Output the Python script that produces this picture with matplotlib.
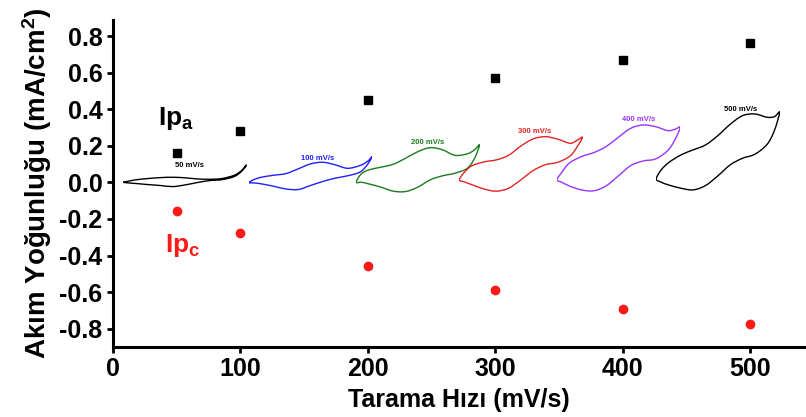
import numpy as np
import matplotlib
matplotlib.use("Agg")
import matplotlib.pyplot as plt
from matplotlib.path import Path
from matplotlib.patches import PathPatch

plt.rcParams["font.family"] = ["Liberation Sans", "DejaVu Sans"]
plt.rcParams["font.weight"] = "bold"
plt.rcParams["axes.unicode_minus"] = False
plt.rcParams["mathtext.fontset"] = "custom"
plt.rcParams["mathtext.rm"] = "Liberation Sans:bold"
plt.rcParams["mathtext.bf"] = "Liberation Sans:bold"
plt.rcParams["mathtext.it"] = "Liberation Sans:bold"

# peak current densities vs scan rate
scan_rates = [50, 100, 200, 300, 400, 500]
ipa = [0.16, 0.28, 0.45, 0.57, 0.67, 0.76]
ipc = [-0.155, -0.275, -0.46, -0.59, -0.69, -0.775]

x_ticks = [0, 100, 200, 300, 400, 500]
y_ticks = [-0.8, -0.6, -0.4, -0.2, 0.0, 0.2, 0.4, 0.6, 0.8]

# small voltammograms: potential grid (V), anodic and cathodic branches
e_cv = [-0.2, -0.16, -0.1, 0.0, 0.1, 0.2, 0.3, 0.4, 0.5, 0.6, 0.7, 0.76, 0.8]
fwd_50 = [0.001, 0.006, 0.014, 0.021, 0.026, 0.028, 0.025, 0.019, 0.017, 0.021, 0.039, 0.065, 0.096]
rev_50 = [0.001, -0.003, -0.006, -0.012, -0.017, -0.023, -0.014, -0.001, 0.010, 0.015, 0.032, 0.061, 0.096]
fwd_100 = [-0.001, 0.015, 0.028, 0.039, 0.048, 0.074, 0.101, 0.110, 0.096, 0.077, 0.092, 0.114, 0.141]
rev_100 = [-0.001, -0.003, -0.008, -0.021, -0.036, -0.039, -0.017, 0.005, 0.023, 0.036, 0.056, 0.096, 0.141]
fwd_200 = [0.001, 0.046, 0.068, 0.083, 0.099, 0.132, 0.168, 0.190, 0.178, 0.148, 0.156, 0.178, 0.205]
rev_200 = [0.001, 0.001, -0.008, -0.026, -0.048, -0.050, -0.026, 0.014, 0.036, 0.050, 0.077, 0.132, 0.205]
fwd_300 = [0.014, 0.054, 0.090, 0.112, 0.123, 0.148, 0.199, 0.238, 0.250, 0.236, 0.214, 0.232, 0.247]
rev_300 = [0.014, 0.003, -0.012, -0.036, -0.048, -0.032, 0.014, 0.065, 0.097, 0.110, 0.145, 0.199, 0.247]
fwd_400 = [0.014, 0.054, 0.105, 0.141, 0.163, 0.196, 0.247, 0.296, 0.314, 0.305, 0.283, 0.291, 0.301]
rev_400 = [0.014, 0.001, -0.019, -0.041, -0.046, -0.019, 0.036, 0.092, 0.117, 0.128, 0.174, 0.236, 0.301]
fwd_500 = [0.019, 0.068, 0.108, 0.150, 0.178, 0.205, 0.256, 0.318, 0.365, 0.374, 0.356, 0.360, 0.383]
rev_500 = [0.019, 0.001, -0.014, -0.032, -0.041, -0.017, 0.036, 0.096, 0.132, 0.154, 0.209, 0.287, 0.383]

cv_labels = ["50 mV/s", "100 mV/s", "200 mV/s", "300 mV/s", "400 mV/s", "500 mV/s"]
cv_colors = ["black", "#1f1fff", "#1e7a1e", "#e02424", "#9933ff", "black"]
cv_left = [8.2, 106.7, 190.9, 271.7, 348.2, 426.2]
cv_label_pos = [(0.34, 0.092), (0.354, 0.128), (0.38, 0.22), (0.41, 0.281), (0.46, 0.345), (0.487, 0.40)]
cv_fwd = [fwd_50, fwd_100, fwd_200, fwd_300, fwd_400, fwd_500]
cv_rev = [rev_50, rev_100, rev_200, rev_300, rev_400, rev_500]

XMAX, YMIN, YMAX = 543, -0.9, 0.888


def smooth_loop(x, y):
    # closed Catmull-Rom curve through the points, drawn as cubic Beziers
    pts = np.column_stack([x, y])
    n = len(pts)
    verts = [pts[0]]
    codes = [Path.MOVETO]
    for i in range(n):
        p0, p1, p2, p3 = pts[i - 1], pts[i], pts[(i + 1) % n], pts[(i + 2) % n]
        verts += [p1 + (p2 - p0) / 6, p2 - (p3 - p1) / 6, p2]
        codes += [Path.CURVE4] * 3
    return Path(verts, codes)


fig = plt.figure(figsize=(8.06, 4.17), dpi=100)
ax = fig.add_axes([0.140, 0.168, 0.859, 0.784])

ax.plot(scan_rates, ipa, "s", color="black", ms=6, zorder=5)
ax.plot(scan_rates, ipc, "o", color="#ff1a1a", ms=6, zorder=5)

ax.set_xlim(0, XMAX)
ax.set_ylim(YMIN, YMAX)
ax.set_xticks(x_ticks)
ax.set_yticks(y_ticks)
ax.set_yticklabels([f"{v:.1f}" for v in y_ticks])
for s in ["top", "right"]:
    ax.spines[s].set_visible(False)
for s in ["left", "bottom"]:
    ax.spines[s].set_linewidth(2.2)
ax.tick_params(width=2, length=4.5, labelsize=18, pad=3)
for lab in ax.get_xticklabels() + ax.get_yticklabels():
    lab.set_fontweight("bold")

ax.set_xlabel("Tarama Hızı (mV/s)", fontsize=18, fontweight="bold", labelpad=5)
ax.set_ylabel("Akım Yoğunluğu (mA/cm$^2$)", fontsize=20, fontweight="bold", labelpad=4)

ax.text(35.6, 0.314, "Ip$_a$", fontsize=19, color="black", va="baseline")
ax.text(41, -0.38, "Ip$_c$", fontsize=19, color="#ff1a1a", va="baseline")

# inset voltammograms placed along the scan-rate axis
for left, fwd, rev, col, lab, (lx, ly) in zip(cv_left, cv_fwd, cv_rev, cv_colors,
                                               cv_labels, cv_label_pos):
    ins = ax.inset_axes([left, YMIN, 96.7, YMAX - YMIN], transform=ax.transData)
    ins.set_xlim(-0.2, 0.8)
    ins.set_ylim(YMIN, YMAX)
    ins.axis("off")
    ins.patch.set_alpha(0)
    x = e_cv + e_cv[-2:0:-1]
    y = fwd + rev[-2:0:-1]
    ins.add_patch(PathPatch(smooth_loop(x, y), fill=False, edgecolor=col, lw=1.0))
    ins.text(lx, ly, lab, color=col, fontsize=5.5, fontweight="bold",
             ha="center", va="center")

fig.savefig("out.png", dpi=100)
